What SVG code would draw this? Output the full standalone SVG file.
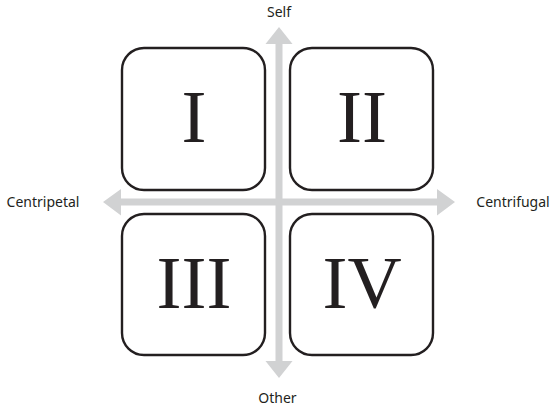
<svg xmlns="http://www.w3.org/2000/svg" width="550" height="409" viewBox="0 0 550 409">
<style>
.box{fill:#fff;stroke:#231f20;stroke-width:2.4}
.num{font-family:"Liberation Serif",serif;font-size:75px;fill:#231f20;text-anchor:middle}
.lab{font-family:"Noto Sans","Open Sans",sans-serif;font-size:14px;fill:#231f20;text-anchor:middle}
.ax{fill:#d1d2d3}
</style>
<rect width="550" height="409" fill="#fff"/>
<g id="connectors">
<path class="ax" d="M275.5 44 H265.5 L279 27 L292.5 44 H282.5 V361 H292.5 L279 378 L265.5 361 H275.5 Z"/>
<path class="ax" d="M121 198.5 V189 L103 202 L121 215.5 V205.5 H437 V215.5 L455 202 L437 189 V198.5 Z"/>
</g>
<g id="node-I"><rect class="box" x="122" y="48" width="143" height="142" rx="22"/><text class="num" x="194" y="142">I</text></g>
<g id="node-II"><rect class="box" x="290" y="48" width="143" height="142" rx="22"/><text class="num" x="362" y="142">II</text></g>
<g id="node-III"><rect class="box" x="122" y="214" width="143" height="141" rx="22"/><text class="num" x="194" y="308">III</text></g>
<g id="node-IV"><rect class="box" x="290" y="214" width="143" height="141" rx="22"/><text class="num" x="362" y="308">IV</text></g>
<g id="labels">
<text class="lab" x="279" y="17">Self</text>
<text class="lab" x="277.5" y="403">Other</text>
<text class="lab" x="43" y="207">Centripetal</text>
<text class="lab" x="513" y="207">Centrifugal</text>
</g>
</svg>
